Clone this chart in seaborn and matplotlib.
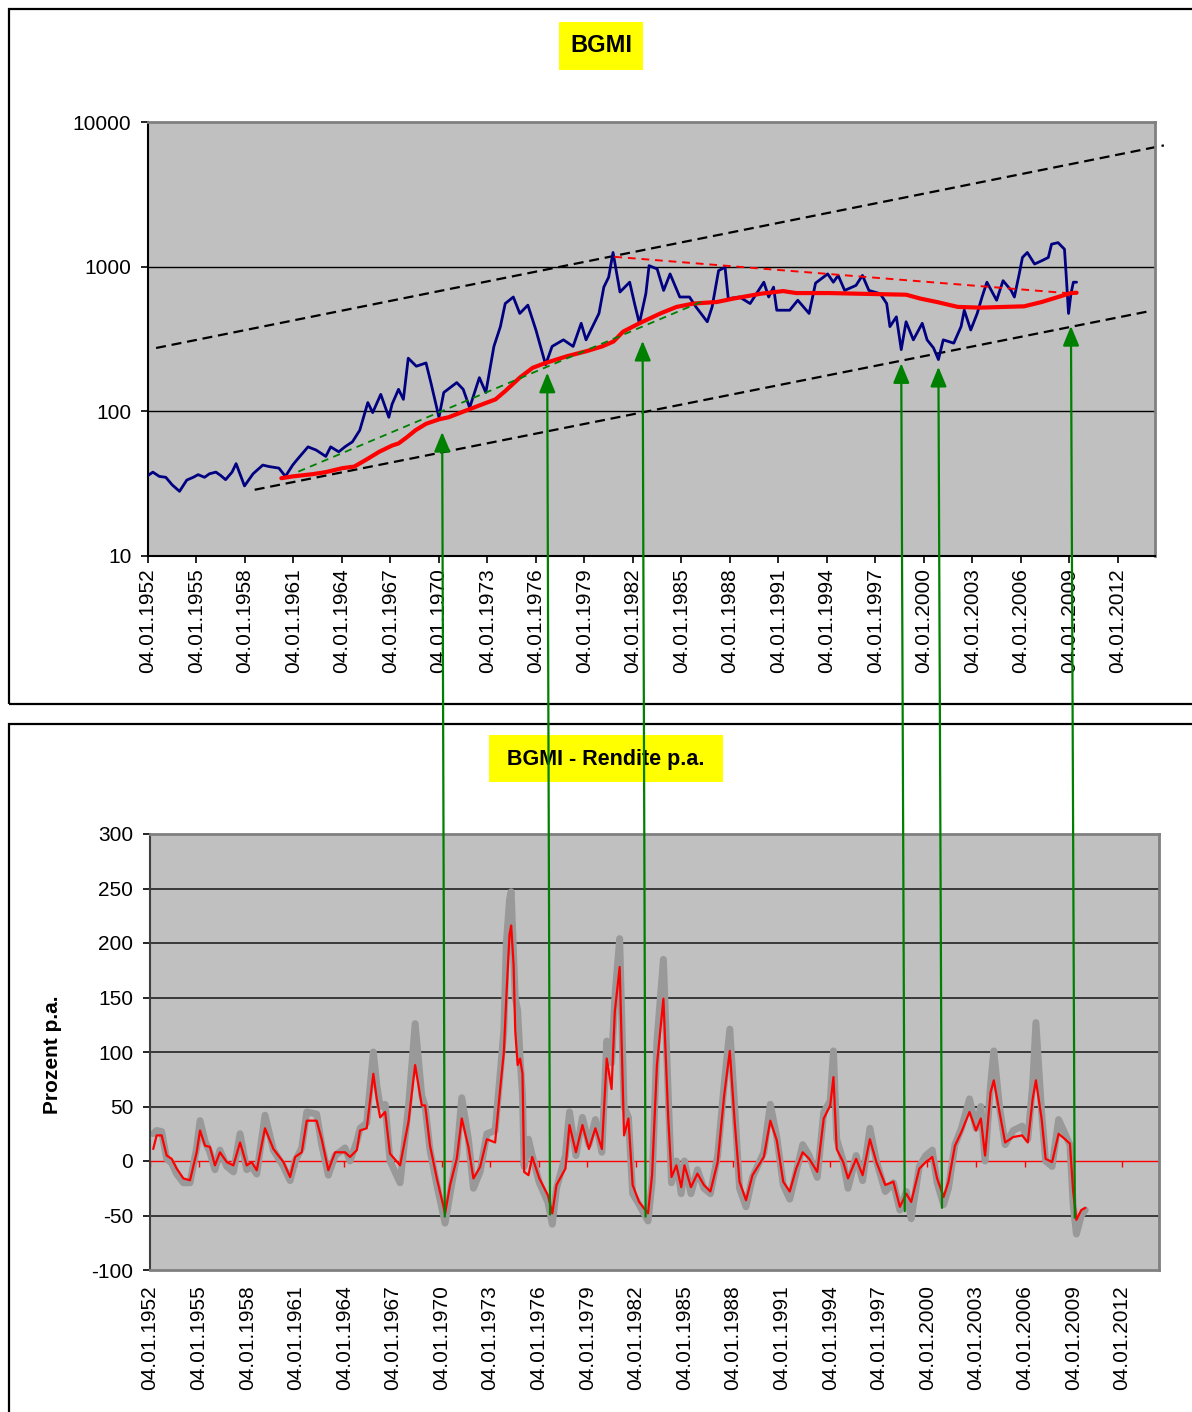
import matplotlib
matplotlib.use("Agg")
import matplotlib.pyplot as plt
import seaborn as sns
import pandas as pd
from matplotlib.patches import Rectangle, ConnectionPatch
from matplotlib.ticker import FixedLocator, FixedFormatter, NullLocator

# ---------------- data ----------------
tick_years = [1952, 1955, 1958, 1961, 1964, 1967, 1970, 1973, 1976, 1979, 1982,
              1985, 1988, 1991, 1994, 1997, 2000, 2003, 2006, 2009, 2012]
tick_labels = ["04.01.1952", "04.01.1955", "04.01.1958", "04.01.1961", "04.01.1964",
               "04.01.1967", "04.01.1970", "04.01.1973", "04.01.1976", "04.01.1979",
               "04.01.1982", "04.01.1985", "04.01.1988", "04.01.1991", "04.01.1994",
               "04.01.1997", "04.01.2000", "04.01.2003", "04.01.2006", "04.01.2009",
               "04.01.2012"]

# BGMI index (top, log scale)
bgmi_years = [1952.0, 1952.3, 1952.7, 1953.1, 1953.5, 1953.95, 1954.4, 1954.8, 1955.1, 1955.5,
              1955.8, 1956.2, 1956.5, 1956.8, 1957.2, 1957.45, 1957.97, 1958.5, 1959.1, 1959.5,
              1960.1, 1960.5, 1960.95, 1961.2, 1961.9, 1962.4, 1963.0, 1963.3, 1963.8, 1964.2,
              1964.65, 1965.1, 1965.6, 1965.9, 1966.4, 1966.9, 1967.1, 1967.5, 1967.8, 1968.1,
              1968.6, 1969.2, 1969.5, 1970.0, 1970.3, 1971.1, 1971.5, 1971.9, 1972.5, 1972.9,
              1973.4, 1973.8, 1974.1, 1974.6, 1975.0, 1975.5, 1976.0, 1976.6, 1977.0, 1977.7,
              1978.3, 1978.8, 1979.1, 1979.5, 1979.9, 1980.2, 1980.5, 1980.77, 1981.2, 1981.8,
              1982.1, 1982.4, 1982.8, 1983.0, 1983.5, 1983.9, 1984.3, 1984.9, 1985.5, 1985.9,
              1986.6, 1986.9, 1987.3, 1987.7, 1987.9, 1988.6, 1989.25, 1990.1, 1990.4, 1990.7,
              1990.9, 1991.7, 1992.2, 1992.9, 1993.3, 1994.05, 1994.4, 1994.7, 1995.1, 1995.8,
              1996.2, 1996.6, 1997.3, 1997.7, 1997.9, 1998.3, 1998.6, 1998.9, 1999.35, 1999.9,
              2000.2, 2000.6, 2000.9, 2001.2, 2001.85, 2002.3, 2002.5, 2002.9, 2003.3, 2003.6,
              2003.9, 2004.5, 2004.9, 2005.4, 2005.6, 2005.9, 2006.1, 2006.4, 2006.85, 2007.3,
              2007.7, 2007.9, 2008.3, 2008.7, 2008.8, 2008.95, 2009.1, 2009.25, 2009.45]
bgmi_values = [36, 38, 35.5, 35, 31, 28, 33.5, 35, 36.5, 35,
               37, 38, 36, 33.7, 38, 43.5, 30.5, 37, 42.5, 41.5,
               40.5, 35.5, 42.5, 46, 56.8, 54, 48.8, 56.8, 52.5, 57,
               61.6, 74, 115, 98, 131, 91, 112, 142, 121, 233,
               205, 216, 158, 91, 135, 158, 142, 106, 171, 135,
               281, 385, 556, 617, 475, 542, 365, 210, 281, 312,
               281, 406, 312, 385, 475, 722, 846, 1253, 668, 781,
               556, 406, 650, 1016, 964, 685, 891, 617, 617, 527,
               416, 527, 939, 990, 601, 617, 556, 781, 617, 722,
               500, 500, 586, 475, 770, 891, 781, 870, 685, 742,
               870, 685, 650, 556, 385, 450, 267, 416, 312, 406,
               312, 274, 228, 312, 296, 385, 500, 365, 475, 617,
               781, 586, 800, 685, 617, 891, 1158, 1253, 1043, 1100,
               1158, 1430, 1466, 1320, 891, 475, 650, 781, 781]

# moving average (red, top)
ma_years = [1960.25, 1960.95, 1962.2, 1963.0, 1964.04, 1964.76, 1965.5, 1966.3, 1967.1, 1967.5,
            1968.0, 1968.55, 1969.2, 1970.0, 1970.6, 1971.65, 1972.7, 1973.5, 1974.1, 1975.0,
            1975.8, 1976.6, 1977.9, 1979.1, 1980.1, 1980.8, 1981.4, 1982.4, 1983.7, 1984.7,
            1985.75, 1987.2, 1988.2, 1989.9, 1991.3, 1992.1, 1994.1, 1996.0, 1998.9, 1999.8,
            2000.8, 2002.1, 2003.5, 2006.2, 2007.3, 2008.3, 2009.1, 2009.45]
ma_values = [34.5, 35.5, 36.8, 38, 40.5, 41.5, 46.3, 52.5, 58, 60,
             66, 74, 82, 88, 91, 101, 112, 121, 138, 171,
             200, 216, 240, 260, 281, 304, 356, 406, 475, 527,
             556, 570, 601, 650, 678, 657, 657, 650, 640, 601,
             570, 527, 521, 532, 570, 617, 657, 660]

# trend lines (top)
upper_channel_years = [1952.5, 2014.85]
upper_channel_values = [274, 6890]
lower_channel_years = [1958.6, 2014.05]
lower_channel_values = [28.7, 495]
resistance_years = [1980.85, 2009.35]
resistance_values = [1170, 650]
support_years = [1961.3, 1986.2]
support_values = [38.3, 570]

# annual return (bottom)
ret_years = [1952.2, 1952.41, 1952.72, 1953.03, 1953.34, 1953.65, 1954.06, 1954.47, 1954.88, 1955.09,
             1955.4, 1955.7, 1956.01, 1956.32, 1956.74, 1957.15, 1957.56, 1957.97, 1958.28, 1958.59,
             1959.1, 1959.62, 1960.24, 1960.65, 1960.96, 1961.37, 1961.68, 1962.29, 1962.6, 1963.01,
             1963.43, 1964.04, 1964.35, 1964.77, 1964.97, 1965.38, 1965.79, 1966.0, 1966.21, 1966.52,
             1966.82, 1967.44, 1967.96, 1968.37, 1968.78, 1968.99, 1969.29, 1969.71, 1970.22, 1970.53,
             1970.94, 1971.25, 1971.66, 1971.97, 1972.38, 1972.8, 1973.31, 1973.62, 1973.85, 1974.0,
             1974.2, 1974.3, 1974.45, 1974.55, 1974.7, 1974.85, 1975.0, 1975.1, 1975.37, 1975.6,
             1976.04, 1976.57, 1976.84, 1977.1, 1977.65, 1977.9, 1978.3, 1978.7, 1979.1, 1979.5,
             1979.9, 1980.2, 1980.5, 1980.7, 1981.0, 1981.27, 1981.54, 1981.8, 1982.2, 1982.75,
             1983.0, 1983.3, 1983.7, 1984.0, 1984.2, 1984.5, 1984.8, 1985.0, 1985.4, 1985.8,
             1986.2, 1986.6, 1987.05, 1987.45, 1987.8, 1988.1, 1988.4, 1988.8, 1989.2, 1989.9,
             1990.3, 1990.7, 1991.1, 1991.5, 1991.9, 1992.3, 1992.7, 1993.2, 1993.6, 1994.0,
             1994.2, 1994.4, 1994.8, 1995.1, 1995.6, 1996.0, 1996.45, 1996.85, 1997.4, 1997.9,
             1998.3, 1998.7, 1999.0, 1999.5, 1999.9, 2000.3, 2000.6, 2001.0, 2001.3, 2001.7,
             2002.1, 2002.6, 2003.0, 2003.3, 2003.56, 2003.9, 2004.1, 2004.45, 2004.8, 2005.3,
             2005.85, 2006.2, 2006.5, 2006.7, 2007.05, 2007.3, 2007.7, 2008.1, 2008.5, 2008.8,
             2009.0, 2009.2, 2009.5, 2009.75]
ret_red = [11, 23.5, 23.5, 5, 2, -7, -16, -17.7, 8, 28,
           14, 13, -4, 8, -1, -4, 17, -4, -1, -8.5,
           30, 11, -1, -14.7, 3.7, 8, 37, 37, 20, -8.5,
           8, 8, 3.7, 10, 28, 30, 80, 57, 40, 45,
           6.7, -4, 36, 88, 51, 51, 14, -16, -48, -22,
           2, 39, 13, -16, -5.5, 20, 17, 66, 100, 150,
           208, 216, 180, 120, 88, 94, 80, -10, -13, 3.7,
           -16, -31.5, -48, -22, -7, 33, 8, 33, 11, 30,
           11, 94, 66, 137, 178, 23.5, 39, -22, -37.6, -48,
           -13, 88, 149, 39, -14.7, -4, -24, -4, -24, -11.6,
           -22, -28, -1, 60, 101, 36, -19, -36, -13, 3.7,
           37, 19, -19, -28, -7, 8, 2, -10, 39, 51,
           77, 11, -1, -16, 2, -13, 20, -1, -22, -19,
           -42, -30, -37.6, -7, -1, 3.7, -16, -33, -19, 14,
           26.6, 45, 28, 39, 5, 63, 74, 45, 17, 22,
           23.5, 17, 57, 74, 39, 2, -1, 25, 20, 16,
           -28, -54, -45, -43]
ret_grey = [25, 28, 27, 2, -2, -12, -20, -20, 12, 37,
            18, 8, -8, 10, -5, -10, 25, -8, -5, -12,
            42, 10, -5, -18, 0, 12, 45, 43, 15, -13,
            5, 12, 0, 18, 30, 35, 100, 70, 50, 52,
            0, -20, 50, 126, 60, 50, 10, -22, -57, -30,
            5, 58, 20, -25, -10, 25, 28, 80, 120, 200,
            240, 247, 190, 150, 138, 95, 60, -5, 20, 5,
            -20, -38, -58, -25, 5, 45, 5, 40, 15, 38,
            8, 110, 90, 150, 204, 50, 40, -30, -40, -55,
            -20, 110, 185, 60, -20, 0, -30, 0, -30, -8,
            -25, -30, 5, 70, 121, 50, -25, -42, -15, 8,
            52, 22, -22, -35, -10, 15, 5, -15, 45, 55,
            101, 20, 0, -25, 5, -18, 30, 0, -28, -20,
            -45, -28, -53, -5, 5, 10, -20, -40, -25, 15,
            30, 57, 30, 50, 0, 70, 101, 50, 15, 28,
            32, 20, 70, 127, 45, 0, -5, 38, 25, 15,
            -40, -67, -50, -45]

# green arrows linking return lows to index lows
arrow_years = [1970.2, 1976.7, 1982.6, 1998.6, 2000.9, 2009.1]
arrow_top_values = [72, 185, 307, 215, 203, 389]
arrow_bottom_values = [-51, -49, -51, -46, -43, -52]

# ---------------- style ----------------
sns.set_style("white")
plt.rcParams["font.family"] = ["Liberation Sans", "DejaVu Sans"]

W, H = 1192, 1412
fig = plt.figure(figsize=(W / 100, H / 100), dpi=100)

# panel frames
fig.add_artist(Rectangle((9 / W, 1 - 704 / H), 1.2, (704 - 9) / H,
                         transform=fig.transFigure, fill=False, ec="black", lw=1.6))
fig.add_artist(Rectangle((9 / W, -0.1), 1.2, 1 - 724 / H + 0.1,
                         transform=fig.transFigure, fill=False, ec="black", lw=1.6))

ax1 = fig.add_axes([148 / W, 1 - 556 / H, (1155 - 148) / W, (556 - 122) / H])
ax2 = fig.add_axes([150 / W, 1 - 1270 / H, (1159 - 150) / W, (1270 - 834) / H])

plot_bg = "#C0C0C0"
xlim = (1952.0, 2014.3)

# ---------------- top panel ----------------
ax1.set_facecolor(plot_bg)
for v in [100, 1000]:
    ax1.axhline(v, color="black", lw=1.0, zorder=1)

sns.lineplot(x=upper_channel_years, y=upper_channel_values, ax=ax1, color="black",
             linewidth=1.6, linestyle=(0, (4.5, 2.6)), estimator=None, sort=False,
             clip_on=False, zorder=2)
sns.lineplot(x=lower_channel_years, y=lower_channel_values, ax=ax1, color="black",
             linewidth=1.6, linestyle=(0, (4.5, 2.6)), estimator=None, sort=False, zorder=2)
sns.lineplot(x=bgmi_years, y=bgmi_values, ax=ax1, color="#000080", linewidth=2.0,
             estimator=None, sort=False, zorder=3)
sns.lineplot(x=ma_years, y=ma_values, ax=ax1, color="#FF0000", linewidth=3.0,
             estimator=None, sort=False, zorder=4)
sns.lineplot(x=resistance_years, y=resistance_values, ax=ax1, color="#FF0000",
             linewidth=1.4, linestyle=(0, (4, 3)), estimator=None, sort=False, zorder=5)
sns.lineplot(x=support_years, y=support_values, ax=ax1, color="#008000",
             linewidth=1.3, linestyle=(0, (4, 3)), estimator=None, sort=False, zorder=5)

ax1.set_yscale("log")
ax1.set_ylim(10, 10000)
ax1.set_xlim(*xlim)
ax1.yaxis.set_major_locator(FixedLocator([10, 100, 1000, 10000]))
ax1.yaxis.set_major_formatter(FixedFormatter(["10", "100", "1000", "10000"]))
ax1.yaxis.set_minor_locator(NullLocator())
ax1.set_xticks(tick_years)
ax1.set_xticklabels(tick_labels, rotation=90)
ax1.tick_params(axis="x", direction="out", length=5, width=1.2, pad=4, labelsize=15,
                colors="black", bottom=True)
ax1.tick_params(axis="y", direction="out", length=5, width=1.2, pad=7, labelsize=15,
                colors="black", left=True)
ax1.set_xlabel("")
ax1.set_ylabel("")
for s in ["left", "bottom"]:
    ax1.spines[s].set_color("black")
    ax1.spines[s].set_linewidth(1.5)
for s in ["top", "right"]:
    ax1.spines[s].set_color("#808080")
    ax1.spines[s].set_linewidth(2.0)

# ---------------- bottom panel ----------------
ax2.set_facecolor(plot_bg)
for v in [-50, 50, 100, 150, 200, 250]:
    ax2.axhline(v, color="#222222", lw=1.2, zorder=1)
ax2.axhline(0, color="#FF0000", lw=1.0, zorder=1.5)
ax2.vlines(tick_years, -5.5, 0, color="#FF0000", lw=1.0, zorder=1.5)

sns.lineplot(x=ret_years, y=ret_grey, ax=ax2, color="#999999", linewidth=5.0,
             estimator=None, sort=False, zorder=2)
sns.lineplot(x=ret_years, y=ret_red, ax=ax2, color="#FF0000", linewidth=1.6,
             estimator=None, sort=False, zorder=3)

ax2.set_ylim(-100, 300)
ax2.set_xlim(*xlim)
yt = [-100, -50, 0, 50, 100, 150, 200, 250, 300]
ax2.set_yticks(yt)
ax2.set_yticklabels(["-100", "-50", "0", "50", "100", "150", "200", "250", "300"])
ax2.set_xticks(tick_years)
ax2.set_xticklabels(tick_labels, rotation=90)
ax2.tick_params(axis="x", length=0, pad=11, labelsize=15, colors="black")
ax2.tick_params(axis="y", direction="out", length=5, width=1.2, pad=7, labelsize=15,
                colors="black", left=True)
ax2.set_xlabel("")
ax2.set_ylabel("")
ax2.spines["left"].set_color("#404040")
ax2.spines["left"].set_linewidth(1.5)
for s in ["top", "right", "bottom"]:
    ax2.spines[s].set_color("#808080")
    ax2.spines[s].set_linewidth(2.0)

# ---------------- titles ----------------
fig.add_artist(Rectangle((559 / W, 1 - 70 / H), 84 / W, 48 / H, transform=fig.transFigure,
                         facecolor="#FFFF00", edgecolor="none"))
fig.text(601 / W, 1 - 46 / H, "BGMI", ha="center", va="center", fontsize=17,
         fontweight="bold", color="black")
fig.add_artist(Rectangle((489 / W, 1 - 782 / H), 234 / W, 47 / H, transform=fig.transFigure,
                         facecolor="#FFFF00", edgecolor="none"))
fig.text(606 / W, 1 - 759 / H, "BGMI - Rendite p.a.", ha="center", va="center",
         fontsize=15.5, fontweight="bold", color="black")
fig.text(52 / W, 1 - 1055 / H, "Prozent p.a.", rotation=90, ha="center", va="center",
         fontsize=15, fontweight="bold", color="black")

# ---------------- arrows ----------------
for yr, tv, bv in zip(arrow_years, arrow_top_values, arrow_bottom_values):
    con = ConnectionPatch(xyA=(yr, bv), coordsA=ax2.transData,
                          xyB=(yr, tv), coordsB=ax1.transData,
                          arrowstyle="-|>,head_length=0.8,head_width=0.33",
                          mutation_scale=15, color="#008000", lw=1.6,
                          shrinkA=0, shrinkB=0, zorder=10)
    fig.add_artist(con)

fig.savefig("out.png", dpi=100)
